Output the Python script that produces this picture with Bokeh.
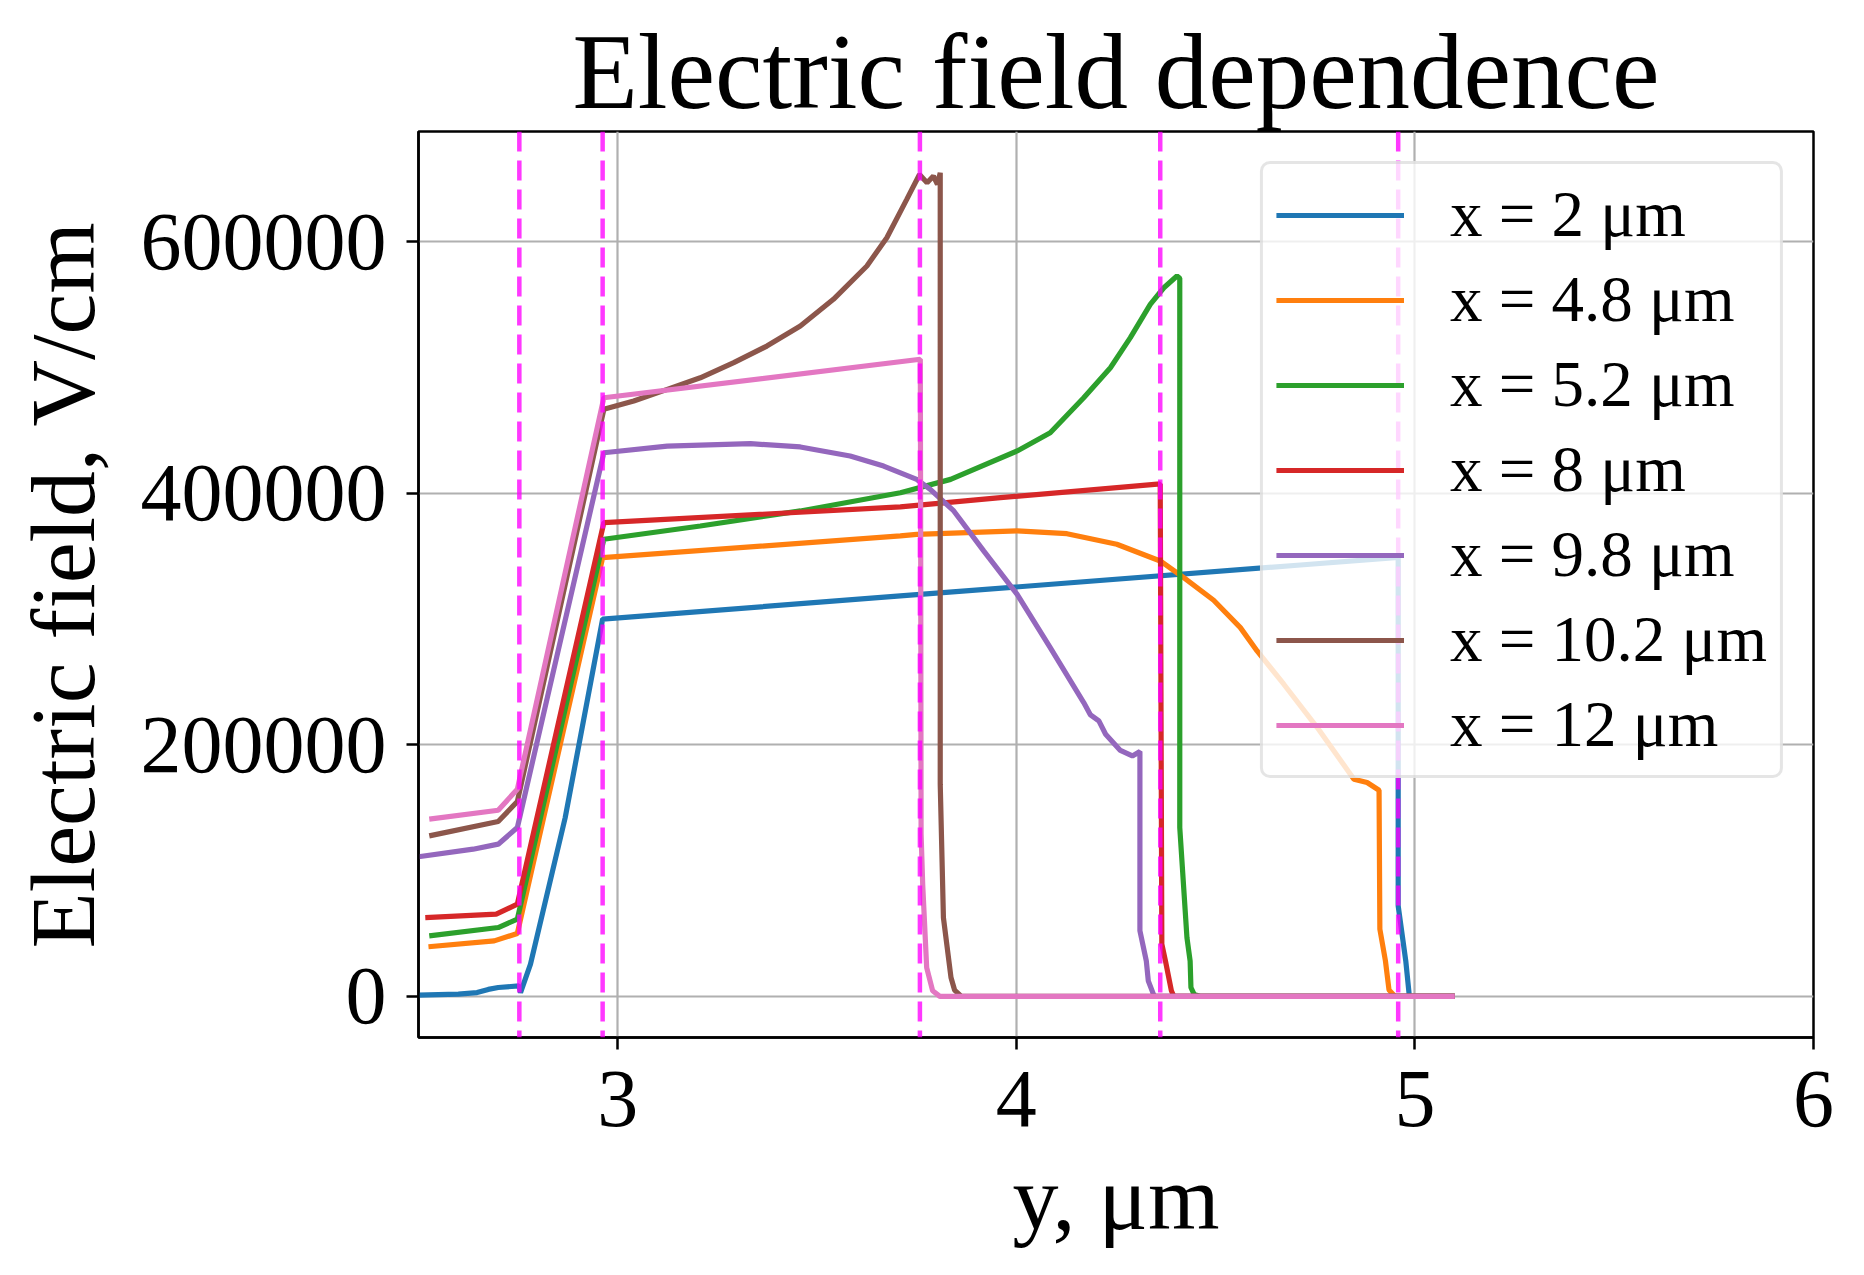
from bokeh.plotting import figure
from bokeh.models import (Span, Legend, LegendItem, FixedTicker, BasicTickFormatter,
                          Range1d)
from bokeh.embed import file_html
from bokeh.resources import INLINE

# ---------------- data ----------------
labels = ["x = 2 μm", "x = 4.8 μm", "x = 5.2 μm", "x = 8 μm",
          "x = 9.8 μm", "x = 10.2 μm", "x = 12 μm"]
colors = ["#1f77b4", "#ff7f0e", "#2ca02c", "#d62728", "#9467bd", "#8c564b", "#e377c2"]

pos_x2 = [2.50, 2.60, 2.647, 2.675, 2.70, 2.752, 2.756, 2.781, 2.868, 2.962, 3.709, 4.713,
          4.958, 4.958, 4.977, 4.986, 5.10]
field_x2 = [1000, 1800, 3000, 5500, 7000, 8300, 3000, 25600, 142000, 300000, 318400, 343000,
            349000, 72000, 28200, 0, 0]

pos_x48 = [2.525, 2.690, 2.748, 2.962, 3.709, 3.750, 4.002, 4.127, 4.252, 4.361, 4.420, 4.495,
           4.562, 4.604, 4.671, 4.755, 4.847, 4.880, 4.910, 4.912, 4.926, 4.935, 4.950, 5.10]
field_x48 = [39400, 44100, 50000, 348800, 366100, 367400, 370100, 367900, 359500, 346200, 333000,
             315000, 293200, 274700, 248200, 213700, 172700, 170000, 163900, 53400, 28200, 5000,
             0, 0]

pos_x52 = [2.527, 2.70, 2.748, 2.965, 3.207, 3.458, 3.709, 3.835, 4.002, 4.085, 4.169, 4.236,
           4.286, 4.336, 4.370, 4.403, 4.410, 4.410, 4.428, 4.436, 4.438, 4.446, 4.46, 5.10]
field_x52 = [48100, 54700, 61400, 363500, 374000, 386000, 400500, 411100, 433700, 448200, 476000,
             499900, 523800, 550300, 563500, 572800, 571000, 134200, 46700, 28000, 7000, 1500,
             0, 0]

pos_x8 = [2.517, 2.695, 2.748, 2.965, 3.709, 3.960, 4.361, 4.365, 4.374, 4.389, 4.395, 5.10]
field_x8 = [62600, 65300, 73300, 376700, 389200, 396600, 407500, 41500, 28200, 4400, 0, 0]

pos_x98 = [2.50, 2.637, 2.70, 2.748, 2.965, 3.124, 3.333, 3.458, 3.583, 3.667, 3.750, 3.784,
           3.843, 3.918, 4.002, 4.085, 4.169, 4.186, 4.207, 4.224, 4.261, 4.291, 4.310, 4.310,
           4.326, 4.331, 4.346, 5.10]
field_x98 = [111000, 117000, 121000, 134200, 432300, 437600, 439500, 436900, 429700, 421700,
             411100, 403200, 386000, 354200, 319700, 277300, 233600, 223800, 219000, 208400,
             195500, 191200, 194600, 52100, 28200, 12300, 0, 0]

pos_x102 = [2.527, 2.70, 2.748, 2.965, 3.040, 3.124, 3.207, 3.291, 3.374, 3.458, 3.541, 3.625,
            3.675, 3.725, 3.757, 3.776, 3.792, 3.802, 3.809, 3.809, 3.817, 3.836, 3.845, 3.862,
            5.10]
field_x102 = [127600, 139000, 154900, 466800, 473400, 482700, 491900, 503900, 517100, 533000,
              554300, 580800, 603300, 633800, 653600, 647000, 652300, 645700, 654900, 168700,
              62600, 15000, 5000, 0, 0]

pos_x12 = [2.527, 2.70, 2.748, 2.965, 3.759, 3.760, 3.761, 3.765, 3.775, 3.790, 3.808, 5.10]
field_x12 = [140900, 148000, 164700, 476000, 506600, 354000, 129000, 89000, 22900, 4400, 0, 0]

interfaces = [2.753, 2.962, 3.758, 4.361, 4.958]

x_ticks = [3, 4, 5, 6]
y_ticks = [0, 200000, 400000, 600000]
x_range = (2.5, 6.0)
y_range = (-32750, 687750)

series_pos = [pos_x2, pos_x48, pos_x52, pos_x8, pos_x98, pos_x102, pos_x12]
series_field = [field_x2, field_x48, field_x52, field_x8, field_x98, field_x102, field_x12]

# ---------------- figure ----------------
FONT = "Liberation Serif"

p = figure(width=1856, height=1267, output_backend="svg", toolbar_location=None,
           x_range=Range1d(*x_range), y_range=Range1d(*y_range),
           min_border_left=418, min_border_right=43, min_border_top=131,
           min_border_bottom=230, title="Electric field dependence")

p.title.text_font = FONT
p.title.text_font_size = "107px"
p.title.text_font_style = "normal"
p.title.text_color = "black"
p.title.align = "center"
p.title.standoff = 2

p.background_fill_color = "white"
p.border_fill_color = "white"
p.outline_line_color = "black"
p.outline_line_width = 2.5
p.outline_line_alpha = 1.0

p.xaxis.ticker = FixedTicker(ticks=x_ticks)
p.yaxis.ticker = FixedTicker(ticks=y_ticks)
p.yaxis.formatter = BasicTickFormatter(use_scientific=False)

for ax in (p.xaxis[0], p.yaxis[0]):
    ax.major_label_text_font = FONT
    ax.major_label_text_font_size = "82px"
    ax.major_label_text_color = "black"
    ax.axis_label_text_font = FONT
    ax.axis_label_text_font_size = "92px"
    ax.axis_label_text_font_style = "normal"
    ax.axis_label_text_color = "black"
    ax.axis_line_width = 2.5
    ax.axis_line_color = "black"
    ax.major_tick_line_width = 2.5
    ax.major_tick_line_color = "black"
    ax.major_tick_out = 12
    ax.major_tick_in = 0
    ax.minor_tick_line_color = None

p.xaxis.axis_label = "y, μm"
p.yaxis.axis_label = "Electric field, V/cm"
p.xaxis.major_label_standoff = 22
p.yaxis.major_label_standoff = 20
p.xaxis.axis_label_standoff = 18
p.yaxis.axis_label_standoff = 24

for g in (p.xgrid[0], p.ygrid[0]):
    g.grid_line_color = "#b0b0b0"
    g.grid_line_width = 2.2

renderers = []
for xs, ys, c in zip(series_pos, series_field, colors):
    r = p.line(xs, ys, line_color=c, line_width=5.2)
    renderers.append(r)

for loc in interfaces:
    p.add_layout(Span(location=loc, dimension="height", line_color="#ff00ff",
                      line_alpha=0.78, line_width=4.5, line_dash="20 9"))

legend = Legend(items=[LegendItem(label=l, renderers=[r]) for l, r in zip(labels, renderers)],
                location="top_right", margin=30,
                label_text_font=FONT, label_text_font_size="65px",
                label_text_color="black",
                glyph_width=128, glyph_height=70, label_height=70, label_standoff=46,
                spacing=10, padding=13,
                border_line_color="#cccccc", border_line_width=3,
                background_fill_color="white", background_fill_alpha=0.8)
if "border_radius" in Legend.properties():
    legend.border_radius = 10
p.add_layout(legend, "center")

open("out.html", "w").write(file_html(p, INLINE))
